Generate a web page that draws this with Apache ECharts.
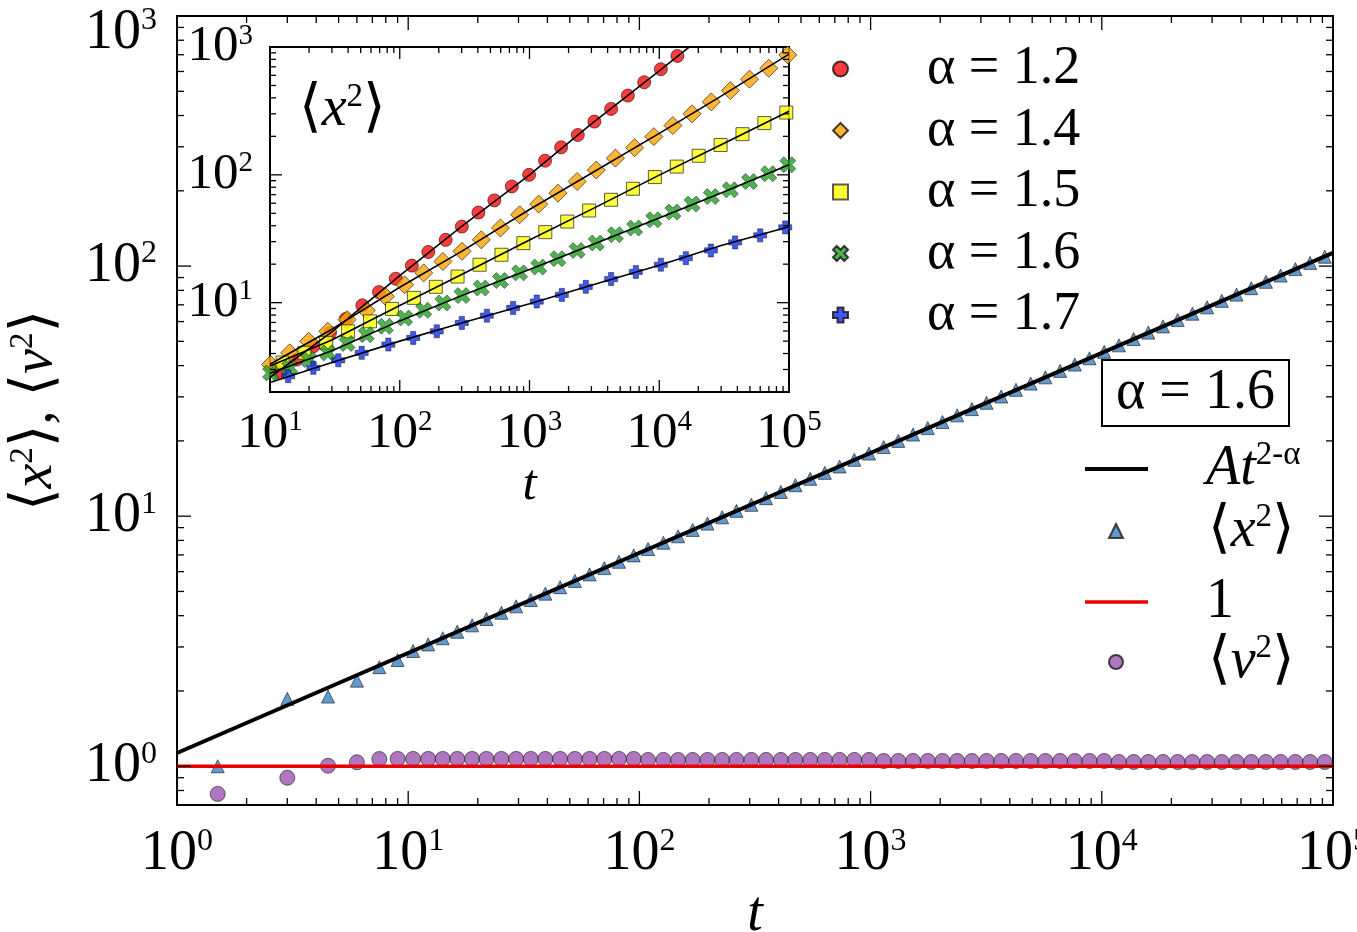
<!DOCTYPE html>
<html>
<head>
<meta charset="utf-8">
<title>x2 v2</title>
<script src="https://cdn.jsdelivr.net/npm/echarts@6/dist/echarts.min.js"></script>
<style>
    html, body { margin: 0; background: #fff; }
    #main { width: 1357px; height: 932px; }
</style>
</head>
<body>
<div id="main"></div>
<script>
// ---- main panel (alpha = 1.6) ----
var tMain = [1.5, 3, 4.5, 6, 7.5, 9,
    10.5, 12.2, 14.1, 16.3, 18.9, 21.8, 25.3, 29.3, 33.9, 39.2, 45.4, 52.6, 60.9, 70.5, 81.6, 94.5,
    109, 127, 147, 170, 197, 228, 263, 305, 353, 409, 473, 548, 634, 734, 850, 984,
    1139, 1318, 1526, 1767, 2045, 2368, 2742, 3174, 3674, 4254, 4925, 5702, 6600, 7642, 8847, 10240,
    11860, 13730, 15890, 18400, 21300, 24660, 28550, 33050, 38260, 44300, 51290, 59370, 68740, 79580, 92130];
var x2Main = [1.0, 1.86, 1.90, 2.20, 2.49, 2.66,
    2.89, 3.07, 3.25, 3.45, 3.66, 3.88, 4.11, 4.36, 4.62, 4.90, 5.20, 5.51, 5.85, 6.20, 6.57, 6.97,
    7.39, 7.83, 8.31, 8.81, 9.34, 9.90, 10.5, 11.1, 11.8, 12.5, 13.3, 14.1, 14.9, 15.8, 16.8, 17.8,
    18.9, 20.0, 21.2, 22.5, 23.8, 25.3, 26.8, 28.4, 30.1, 32.0, 33.9, 35.9, 38.1, 40.4, 42.8, 45.4,
    48.2, 51.1, 54.2, 57.4, 60.9, 64.5, 68.4, 72.6, 76.9, 81.6, 86.5, 91.7, 97.3, 103, 109];
var v2Main = [0.775, 0.90, 1.005, 1.037, 1.069, 1.07,
    1.07, 1.07, 1.07, 1.07, 1.07, 1.07, 1.07, 1.07, 1.07, 1.07, 1.07, 1.07, 1.07, 1.07, 1.07, 1.07,
    1.06, 1.06, 1.06, 1.06, 1.06, 1.06, 1.06, 1.06, 1.06, 1.06, 1.06, 1.06, 1.06, 1.06, 1.06, 1.06,
    1.05, 1.05, 1.05, 1.05, 1.05, 1.05, 1.05, 1.05, 1.05, 1.05, 1.05, 1.05, 1.05, 1.05, 1.05, 1.05,
    1.04, 1.04, 1.04, 1.04, 1.04, 1.04, 1.04, 1.04, 1.04, 1.04, 1.04, 1.04, 1.04, 1.04, 1.04];
var fitMainT = [1, 100000];
var fitMainY = [1.13, 113];
var oneT = [1, 100000];
var oneY = [1, 1];

// ---- inset: <x^2> for several alpha ----
var tRed = [11.9, 16.1, 21.6, 29.0, 38.4, 51.5, 69.2, 93.1, 124, 166, 226, 301, 404, 536, 731,
    993, 1318, 1753, 2356, 3162, 4256, 5728, 7651, 10280, 13800, 18580];
var x2Red = [2.84, 3.59, 4.56, 5.80, 7.46, 9.53, 12.1, 15.4, 19.5, 24.9, 31.0, 39.4, 50.7, 63.1, 81.1,
    100, 129, 164, 205, 261, 328, 417, 530, 670, 851, 1055];
var tOrangeGreen = [10.1, 14.2, 19.9, 27.9, 39.3, 55.2, 77.5, 109, 153, 215, 302, 425, 597, 839,
    1178, 1656, 2328, 3268, 4592, 6457, 9078, 12740, 17910, 25180, 35320, 49660, 69820, 97950];
var x2Orange = [3.28, 4.05, 4.99, 5.97, 7.36, 8.71, 11.2, 13.8, 17.1, 21.0, 25.2, 31.0, 38.4, 48.7,
    59.0, 71.9, 88.7, 109, 135, 163, 199, 243, 300, 372, 456, 560, 682, 866];
var x2Green = [2.82, 3.10, 3.59, 4.05, 4.79, 5.62, 6.53, 7.59, 8.71, 9.95, 11.35, 13.0, 14.9, 17.1,
    19.0, 22.1, 25.6, 29.3, 34.0, 38.3, 44.5, 51.1, 59.0, 67.6, 76.3, 88.7, 102, 120];
var tYellow = [12.5, 18.4, 27.1, 40.0, 59.0, 87.1, 128.5, 189.6, 279, 412, 608, 897, 1324, 1953,
    2882, 4250, 6270, 9250, 13650, 20140, 29700, 43800, 64600, 95300];
var x2Yellow = [3.40, 4.05, 4.84, 5.97, 7.14, 8.93, 10.9, 13.3, 16.0, 19.8, 23.7, 29.2, 35.6, 43.1,
    52.6, 63.8, 77.8, 96.0, 116, 141, 171, 208, 254, 307];
var tBlue = [13.8, 21.6, 33.6, 50.9, 81.7, 127, 193, 301, 469, 748, 1138, 1775, 2717, 4256, 6600,
    10290, 16030, 25000, 38460, 59980, 93540];
var x2Blue = [2.66, 3.09, 3.54, 4.05, 4.70, 5.30, 5.97, 6.94, 7.91, 9.09, 10.2, 11.5, 13.3, 15.3, 17.4,
    19.8, 22.3, 25.6, 29.6, 33.6, 38.8];
// black fit curves of the inset
var fitT = [10, 30, 100, 300, 1000, 3000, 10000, 30000, 100000];
var fitRed = [2.6, 5.9, 16.3, 39.5, 100, 250, 650, 1580, 4100];
var fitOrange = [3.3, 6.2, 13.2, 25.2, 53.5, 103, 211, 413, 880];
var fitYellow = [3.2, 5.1, 9.5, 16.6, 30.9, 53.7, 99.5, 172, 314];
var fitGreen = [2.8, 4.2, 7.2, 11.35, 18.2, 28.3, 46, 72, 120];
var fitBlue = [2.37, 3.4, 5.0, 6.94, 9.8, 13.7, 19.6, 28, 39.3];

var alphaNames = ['α = 1.2', 'α = 1.4', 'α = 1.5', 'α = 1.6', 'α = 1.7'];

// minor tick multipliers inside each decade
var minorMult = [2, 3, 4, 5, 6, 7, 8, 9];

var FONT = 'Liberation Serif';
var plusPath = 'path://M3,0H7V3H10V7H7V10H3V7H0V3H3Z';
var crossPath = 'path://M0,2.5L2.5,0L5,2.5L7.5,0L10,2.5L7.5,5L10,7.5L7.5,10L5,7.5L2.5,10L0,7.5L2.5,5Z';

function pairs(xs, ys) {
    return xs.map(function (x, i) { return [x, ys[i]]; });
}

// tick values between lo and hi (log axis), major = power of ten
function tickList(lo, hi) {
    var out = [];
    for (var e = -1; e <= 5; e++) {
        var p = Math.pow(10, e);
        if (p > lo * 1.0001 && p < hi * 0.9999) out.push([p, 1]);
        minorMult.forEach(function (m) {
            var v = m * p;
            if (v > lo * 1.0001 && v < hi * 0.9999) out.push([v, 0]);
        });
    }
    return out;
}

function powLabel(v) {
    var l = Math.log10(v), e = Math.round(l);
    if (Math.abs(l - e) > 1e-6) return '';
    return '{b|10}{s|' + e + '}';
}

// main y axis: the top label sits a bit lower, as in the original figure
function mainYLabel(v) {
    var l = Math.log10(v), e = Math.round(l);
    if (Math.abs(l - e) > 1e-6) return '';
    if (e === 3) return '{bt|10}{st|3}';
    return '{b|10}{s|' + e + '}';
}

function labelRich(big, small) {
    return {
        b: {fontSize: big, fontFamily: FONT, color: '#000'},
        s: {fontSize: small, fontFamily: FONT, color: '#000', verticalAlign: 'top'},
        bt: {fontSize: big, fontFamily: FONT, color: '#000', padding: [34, 0, 0, 0]},
        st: {fontSize: small, fontFamily: FONT, color: '#000', verticalAlign: 'top', padding: [34, 0, 0, 0]}
    };
}

// inward tick marks on all four sides of a grid
function tickSeries(idx, dim, lo, hi, ref, majorLen, minorLen) {
    return {
        type: 'custom',
        xAxisIndex: idx, yAxisIndex: idx,
        silent: true, z: 20,
        data: tickList(lo, hi).map(function (t) {
            return dim === 'x' ? [t[0], ref, t[1]] : [ref, t[0], t[1]];
        }),
        renderItem: function (params, api) {
            var cs = params.coordSys;
            var len = api.value(2) ? majorLen : minorLen;
            var p = api.coord([api.value(0), api.value(1)]);
            var st = {stroke: '#000', lineWidth: 1.3};
            var a, b;
            if (dim === 'x') {
                var yb = cs.y + cs.height, yt = cs.y;
                a = {x1: p[0], y1: yb, x2: p[0], y2: yb - len};
                b = {x1: p[0], y1: yt, x2: p[0], y2: yt + len};
            } else {
                var xl = cs.x, xr = cs.x + cs.width;
                a = {x1: xl, y1: p[1], x2: xl + len, y2: p[1]};
                b = {x1: xr, y1: p[1], x2: xr - len, y2: p[1]};
            }
            return {type: 'group', children: [
                {type: 'line', shape: a, style: st},
                {type: 'line', shape: b, style: st}
            ]};
        }
    };
}

var bracket = {
    br: {fontSize: 58, fontFamily: 'DejaVu Serif', fontWeight: 'normal', color: '#000'},
    it: {fontSize: 56, fontFamily: FONT, fontStyle: 'italic', fontWeight: 'normal', color: '#000'},
    sup: {fontSize: 33, fontFamily: FONT, fontWeight: 'normal', color: '#000', verticalAlign: 'top'},
    n: {fontSize: 56, fontFamily: FONT, fontWeight: 'normal', color: '#000'}
};

var mainLegendText = {
    fit: '{it|At}{sup|2-α}',
    x2: '{br|⟨}{it|x}{sup|2}{br|⟩}',
    one: '{n|1}',
    v2: '{br|⟨}{it|v}{sup|2}{br|⟩}'
};

var noDot = {color: 'rgba(0,0,0,0)', borderWidth: 0};

var chart = echarts.init(document.getElementById('main'));

var option = {
    animation: false,
    backgroundColor: '#fff',
    textStyle: {fontFamily: FONT},
    grid: [
        {left: 177, top: 16, width: 1156, height: 789, show: true, borderColor: '#000', borderWidth: 2,
            backgroundColor: 'transparent', outerBoundsMode: 'none', containLabel: false},
        {left: 270, top: 47, width: 519, height: 345, show: true, borderColor: '#000', borderWidth: 2,
            backgroundColor: '#fff', outerBoundsMode: 'none', containLabel: false}
    ],
    xAxis: [
        {type: 'log', logBase: 10, gridIndex: 0, min: 1, max: 100000,
            axisLine: {show: false}, axisTick: {show: false}, splitLine: {show: false},
            axisLabel: {formatter: powLabel, margin: 21, fontFamily: FONT, rich: labelRich(56, 32)},
            name: 't', nameLocation: 'middle', nameGap: 59,
            nameTextStyle: {fontSize: 56, fontFamily: FONT, fontStyle: 'italic', color: '#000'}},
        {type: 'log', logBase: 10, gridIndex: 1, min: 10, max: 100000,
            axisLine: {show: false}, axisTick: {show: false}, splitLine: {show: false},
            axisLabel: {formatter: powLabel, margin: 16, fontFamily: FONT, rich: labelRich(51, 29)},
            name: 't', nameLocation: 'middle', nameGap: 53,
            nameTextStyle: {fontSize: 51, fontFamily: FONT, fontStyle: 'italic', color: '#000'}}
    ],
    yAxis: [
        {type: 'log', logBase: 10, gridIndex: 0, min: 0.7, max: 1000,
            axisLine: {show: false}, axisTick: {show: false}, splitLine: {show: false},
            axisLabel: {formatter: mainYLabel, margin: 20, fontFamily: FONT, rich: labelRich(56, 32)},
            name: '{br|⟨}{it|x}{sup|2}{br|⟩}{n|, }{br|⟨}{it|v}{sup|2}{br|⟩}',
            nameLocation: 'middle', nameGap: 112, nameRotate: 90,
            nameTextStyle: {fontFamily: FONT, rich: bracket}},
        {type: 'log', logBase: 10, gridIndex: 1, min: 2, max: 1000,
            axisLabel: {formatter: powLabel, margin: 17, fontFamily: FONT, rich: labelRich(51, 29)},
            axisLine: {show: false}, axisTick: {show: false}, splitLine: {show: false}}
    ],
    title: [
        {text: 'α = 1.6', left: 1102, top: 360, padding: [5, 14, 5, 14],
            borderColor: '#000', borderWidth: 2,
            textStyle: {fontSize: 56, fontFamily: FONT, fontWeight: 'normal', color: '#000'}},
        {text: '{br|⟨}{it|x}{sup|2}{br|⟩}', left: 294, top: 76,
            textStyle: {fontWeight: 'normal', fontFamily: FONT, rich: bracket}}
    ],
    legend: [
        // line entries of the main panel
        {data: [
                {name: 'fit', itemStyle: noDot, lineStyle: {color: '#000', width: 4}},
                {name: 'one', itemStyle: noDot, lineStyle: {color: '#e80000', width: 3.5}}
            ],
            orient: 'vertical', left: 1078, top: 434,
            itemWidth: 63, itemHeight: 14, itemGap: 73, selectedMode: false,
            formatter: function (n) { return mainLegendText[n]; },
            textStyle: {padding: [0, 0, 0, 53], lineHeight: 60, fontFamily: FONT, rich: bracket}},
        // marker entries of the main panel
        {data: ['x2', 'v2'],
            orient: 'vertical', left: 1103, top: 496,
            itemWidth: 14, itemHeight: 14, itemGap: 71, selectedMode: false,
            formatter: function (n) { return mainLegendText[n]; },
            textStyle: {padding: [0, 0, 0, 80], lineHeight: 60, fontFamily: FONT, rich: bracket}},
        // inset legend
        {data: alphaNames,
            orient: 'vertical', left: 827, top: 34,
            itemWidth: 15, itemHeight: 15, itemGap: 1.5, selectedMode: false,
            textStyle: {padding: [0, 0, 0, 74], lineHeight: 60, fontSize: 54, fontFamily: FONT, color: '#000'}}
    ],
    series: [
        // main panel
        {name: 'x2', type: 'scatter', xAxisIndex: 0, yAxisIndex: 0, symbol: 'triangle', symbolSize: 13,
            itemStyle: {color: '#3b80c2', borderColor: '#1a1a1a', borderWidth: 0.8},
            data: pairs(tMain, x2Main), z: 3},
        {name: 'v2', type: 'scatter', xAxisIndex: 0, yAxisIndex: 0, symbol: 'circle', symbolSize: 15,
            itemStyle: {color: '#9b55b0', borderColor: '#1a1a1a', borderWidth: 0.8},
            data: pairs(tMain, v2Main), z: 3},
        {name: 'fit', type: 'line', xAxisIndex: 0, yAxisIndex: 0, symbol: 'none',
            itemStyle: {color: '#000'},
            lineStyle: {color: '#000', width: 4}, data: pairs(fitMainT, fitMainY), z: 4},
        {name: 'one', type: 'line', xAxisIndex: 0, yAxisIndex: 0, symbol: 'none',
            itemStyle: {color: '#e80000'},
            lineStyle: {color: '#e80000', width: 3.5}, data: pairs(oneT, oneY), z: 4},
        // inset
        {name: alphaNames[0], type: 'scatter', xAxisIndex: 1, yAxisIndex: 1, symbol: 'circle', symbolSize: 13,
            itemStyle: {color: '#ff0a0a', borderColor: '#111', borderWidth: 0.8},
            data: pairs(tRed, x2Red), z: 5, clip: true},
        {name: alphaNames[1], type: 'scatter', xAxisIndex: 1, yAxisIndex: 1, symbol: 'diamond', symbolSize: 18,
            itemStyle: {color: '#ffa500', borderColor: '#111', borderWidth: 0.8},
            data: pairs(tOrangeGreen, x2Orange), z: 5, clip: true},
        {name: alphaNames[2], type: 'scatter', xAxisIndex: 1, yAxisIndex: 1, symbol: 'rect', symbolSize: 13,
            itemStyle: {color: '#ffff00', borderColor: '#333', borderWidth: 1},
            data: pairs(tYellow, x2Yellow), z: 5, clip: true},
        {name: alphaNames[3], type: 'scatter', xAxisIndex: 1, yAxisIndex: 1, symbol: crossPath, symbolSize: 16,
            itemStyle: {color: '#22a022', borderColor: '#111', borderWidth: 0.6},
            data: pairs(tOrangeGreen, x2Green), z: 5, clip: true},
        {name: alphaNames[4], type: 'scatter', xAxisIndex: 1, yAxisIndex: 1, symbol: plusPath, symbolSize: 13,
            itemStyle: {color: '#1030f0', borderColor: '#111', borderWidth: 0.6},
            data: pairs(tBlue, x2Blue), z: 5, clip: true},
        {type: 'line', xAxisIndex: 1, yAxisIndex: 1, symbol: 'none', lineStyle: {color: '#000', width: 1.6},
            data: pairs(fitT, fitRed), z: 6},
        {type: 'line', xAxisIndex: 1, yAxisIndex: 1, symbol: 'none', lineStyle: {color: '#000', width: 1.6},
            data: pairs(fitT, fitOrange), z: 6},
        {type: 'line', xAxisIndex: 1, yAxisIndex: 1, symbol: 'none', lineStyle: {color: '#000', width: 1.6},
            data: pairs(fitT, fitYellow), z: 6},
        {type: 'line', xAxisIndex: 1, yAxisIndex: 1, symbol: 'none', lineStyle: {color: '#000', width: 1.6},
            data: pairs(fitT, fitGreen), z: 6},
        {type: 'line', xAxisIndex: 1, yAxisIndex: 1, symbol: 'none', lineStyle: {color: '#000', width: 1.6},
            data: pairs(fitT, fitBlue), z: 6},
        // tick marks
        tickSeries(0, 'x', 1, 100000, 1, 14, 7),
        tickSeries(0, 'y', 0.7, 1000, 10, 14, 7),
        tickSeries(1, 'x', 10, 100000, 10, 12, 6),
        tickSeries(1, 'y', 2, 1000, 100, 12, 6)
    ]
};

chart.setOption(option);
</script>
</body>
</html>
